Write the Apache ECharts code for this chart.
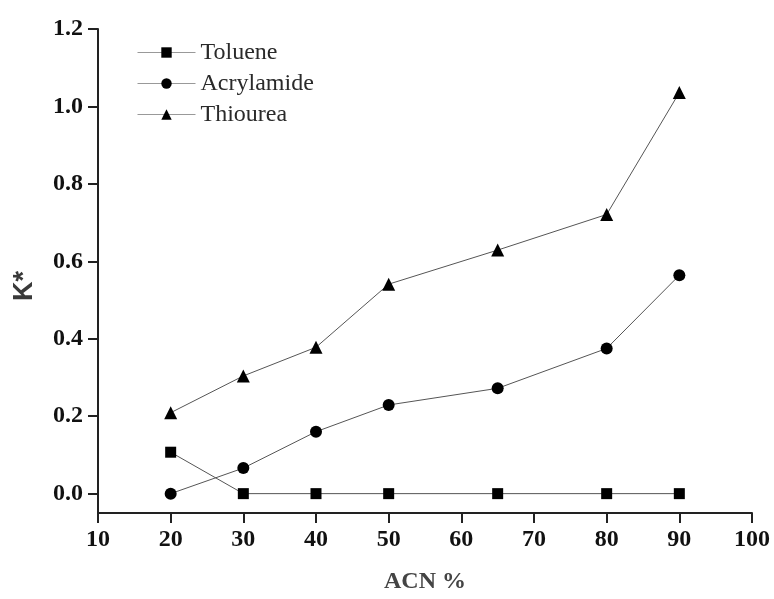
<!DOCTYPE html>
<html>
<head>
<meta charset="utf-8">
<script src="https://cdn.jsdelivr.net/npm/echarts@6/dist/echarts.min.js"></script>
<style>
  html, body { margin: 0; padding: 0; background: #fff; width: 100%; height: 100%; overflow: hidden; }
  #chart { width: 100vw; height: 100vh; }
</style>
</head>
<body>
<div id="chart"></div>
<script>
// ACN % on x
const acn = [20, 30, 40, 50, 65, 80, 90];
const toluene = [0.107, 0, 0, 0, 0, 0, 0];
const acrylamide = [0, 0.066, 0.160, 0.229, 0.272, 0.375, 0.564];
const thiourea = [0.209, 0.304, 0.378, 0.541, 0.629, 0.721, 1.036];
const yTicks = [0, 0.2, 0.4, 0.6, 0.8, 1.0, 1.2];

const serif = '"Liberation Serif", "Times New Roman", serif';

function pairs(ys) {
  return acn.map((x, i) => [x, ys[i]]);
}

function makeSeries(name, ys, symbol, size) {
  return {
    name: name,
    type: 'line',
    data: pairs(ys),
    symbol: symbol,
    symbolSize: size,
    showAllSymbol: true,
    itemStyle: { color: '#000' },
    lineStyle: { color: '#555', width: 1 },
    emphasis: { disabled: true },
    z: 3
  };
}

const chart = echarts.init(document.getElementById('chart'));
chart.setOption({
  animation: false,
  grid: { left: 98, right: 22, top: 29, bottom: 82 },
  legend: {
    orient: 'vertical',
    left: 137,
    top: 40,
    padding: 0,
    itemWidth: 58,
    itemHeight: 13,
    itemGap: 6,
    lineStyle: { color: '#999', width: 1 },
    textStyle: { fontFamily: serif, fontSize: 24, color: '#2a2a2a', lineHeight: 25 },
    data: ['Toluene', 'Acrylamide', 'Thiourea']
  },
  xAxis: {
    type: 'value',
    min: 10,
    max: 100,
    interval: 10,
    name: 'ACN %',
    nameLocation: 'middle',
    nameGap: 57,
    nameTextStyle: { fontFamily: serif, fontSize: 24, fontWeight: 'bold', color: '#444' },
    axisLine: { show: true, onZero: false, lineStyle: { color: '#222', width: 2 } },
    axisTick: { show: true, length: 10, lineStyle: { color: '#222', width: 2 } },
    axisLabel: {
      margin: 15,
      fontFamily: serif, fontSize: 24, fontWeight: 'bold', color: '#111'
    },
    splitLine: { show: false }
  },
  yAxis: {
    type: 'value',
    min: -0.05,
    max: 1.2,
    name: 'K*',
    nameLocation: 'middle',
    nameRotate: 90,
    nameGap: 60,
    nameTextStyle: {
      fontFamily: '"Liberation Sans", Arial, sans-serif', fontSize: 27, fontWeight: 'bold', color: '#3a3a3a',
      padding: [0, 30, 0, 0]
    },
    axisLine: { show: true, onZero: false, lineStyle: { color: '#222', width: 2 } },
    axisTick: { show: true, length: 10, customValues: yTicks, lineStyle: { color: '#222', width: 2 } },
    axisLabel: {
      customValues: yTicks,
      margin: 15,
      formatter: v => v.toFixed(1),
      fontFamily: serif, fontSize: 24, fontWeight: 'bold', color: '#111'
    },
    splitLine: { show: false }
  },
  series: [
    makeSeries('Toluene', toluene, 'rect', 11),
    makeSeries('Acrylamide', acrylamide, 'circle', 12),
    makeSeries('Thiourea', thiourea, 'triangle', 13)
  ]
});
</script>
</body>
</html>
